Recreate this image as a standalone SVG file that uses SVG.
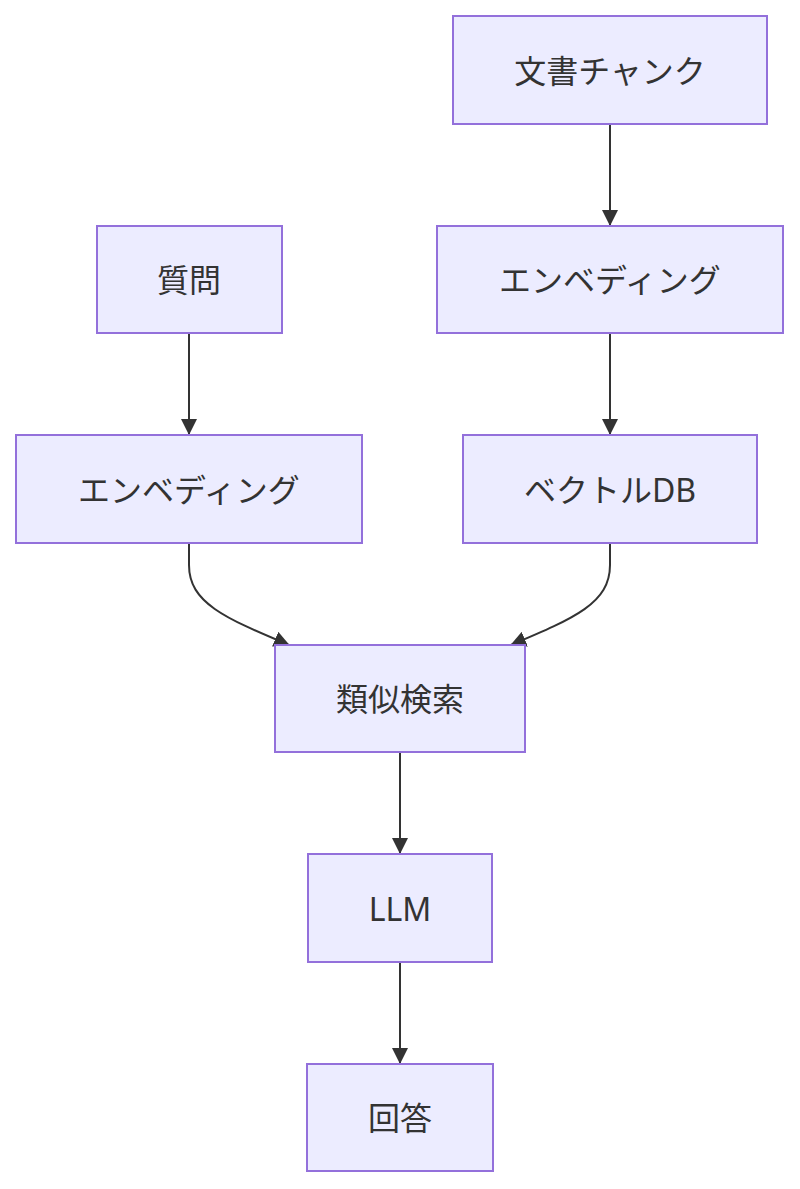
<svg xmlns="http://www.w3.org/2000/svg" width="800" height="1189" viewBox="0 0 800 1189">
<style>
.n rect{fill:#ECECFF;stroke:#9370DB;stroke-width:2}
.n text{font-family:"Noto Sans","Noto Sans CJK JP",sans-serif;font-size:32px;fill:#333;text-anchor:middle;dominant-baseline:central}
.e path{fill:none;stroke:#333;stroke-width:2}
</style>
<defs>
<marker id="arr" viewBox="0 0 16 16" refX="15" refY="8" markerWidth="16" markerHeight="16" markerUnits="userSpaceOnUse" orient="auto">
<path d="M0,0 L16,8 L0,16 Z" fill="#333"/>
</marker>
</defs>
<rect width="800" height="1189" fill="#fff"/>
<g class="e">
<path d="M610,125 V225" marker-end="url(#arr)"/>
<path d="M610,334 V434" marker-end="url(#arr)"/>
<path d="M189,334 V434" marker-end="url(#arr)"/>
<path d="M189,544 V565 C189,603 225,618 289,645" marker-end="url(#arr)"/>
<path d="M610,544 V565 C610,603 575,618 511,645" marker-end="url(#arr)"/>
<path d="M400,753 V853" marker-end="url(#arr)"/>
<path d="M400,963 V1063" marker-end="url(#arr)"/>
</g>
<g id="doc" class="n"><rect x="453" y="16" width="314" height="108"/><text x="610" y="70">文書チャンク</text></g>
<g id="q" class="n"><rect x="97" y="226" width="185" height="107"/><text x="189" y="279">質問</text></g>
<g id="emb2" class="n"><rect x="437" y="226" width="346" height="107"/><text x="610" y="279">エンベディング</text></g>
<g id="emb1" class="n"><rect x="16" y="435" width="346" height="108"/><text x="189" y="489">エンベディング</text></g>
<g id="vdb" class="n"><rect x="463" y="435" width="294" height="108"/><text x="610" y="489">ベクトルDB</text></g>
<g id="sim" class="n"><rect x="275" y="645" width="250" height="107"/><text x="400" y="698">類似検索</text></g>
<g id="llm" class="n"><rect x="308" y="854" width="184" height="108"/><text x="400" y="908">LLM</text></g>
<g id="ans" class="n"><rect x="307" y="1064" width="186" height="107"/><text x="400" y="1117">回答</text></g>
</svg>
